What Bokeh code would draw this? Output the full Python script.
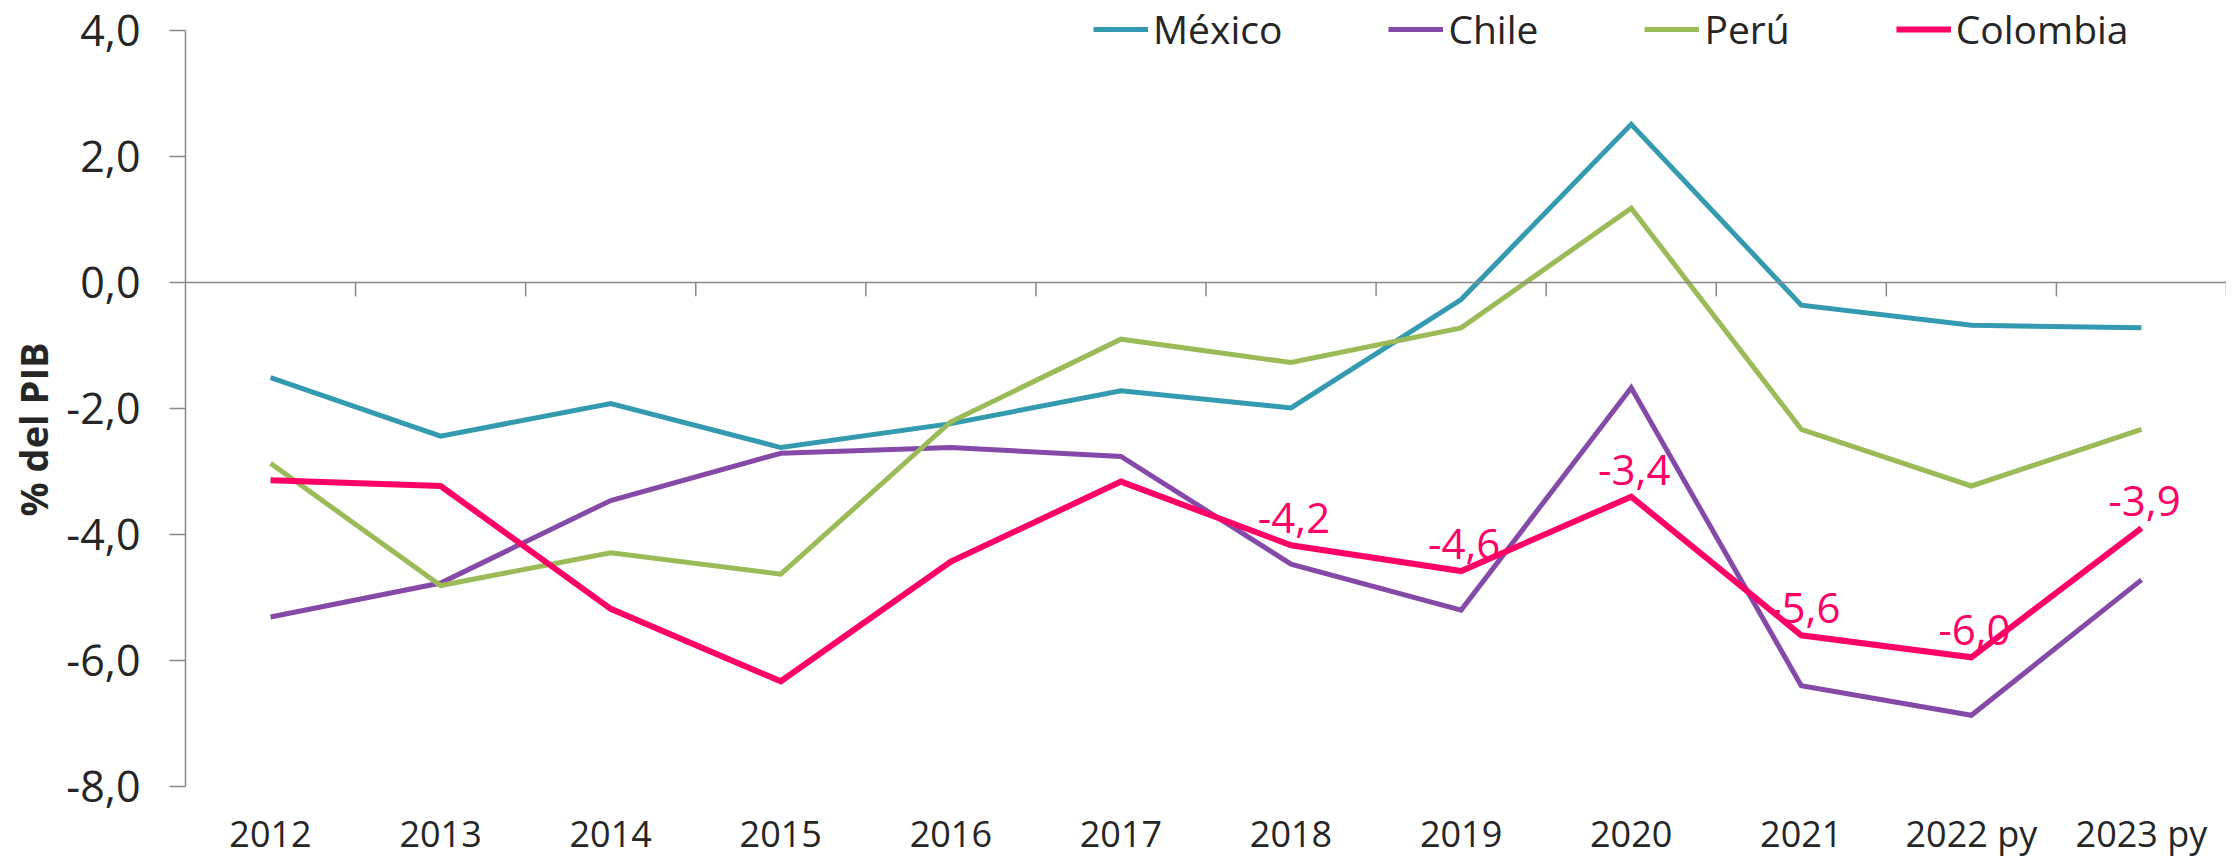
from bokeh.plotting import figure
from bokeh.models import (FactorRange, Range1d, Span, Legend, LegendItem, ColumnDataSource,
                          LabelSet, FixedTicker, CustomJSTickFormatter)
from bokeh.core.properties import value
from bokeh.embed import file_html
from bokeh.resources import INLINE

years = ["2012", "2013", "2014", "2015", "2016", "2017", "2018", "2019", "2020", "2021", "2022 py", "2023 py"]
mexico = [-1.51, -2.44, -1.92, -2.62, -2.24, -1.72, -1.99, -0.27, 2.51, -0.36, -0.68, -0.72]
chile = [-5.31, -4.77, -3.46, -2.71, -2.62, -2.76, -4.47, -5.20, -1.67, -6.40, -6.87, -4.72]
peru = [-2.87, -4.81, -4.29, -4.63, -2.21, -0.90, -1.27, -0.72, 1.18, -2.33, -3.23, -2.33]
colombia = [-3.14, -3.23, -5.18, -6.33, -4.43, -3.16, -4.17, -4.58, -3.40, -5.60, -5.95, -3.90]
labelled_years = ["2018", "2019", "2020", "2021", "2022 py", "2023 py"]
y_ticks = [-8, -6, -4, -2, 0, 2, 4]

series_names = ["México", "Chile", "Perú", "Colombia"]
colors = ["#339AAF", "#8549A7", "#9BBB59", "#FF0066"]
widths = [5, 5, 5, 6]

FONT = "Open Sans"
GRAY = "#898989"
TXT = "#262626"
Y_MIN, Y_MAX = -8, 4

# layout geometry (pixels): the frame fills the whole height so that the legend
# and the bottom category labels (drawn as annotations) are not clipped
H = 858
TOP_PAD, BOTTOM_PAD = 30, 72
px_per_unit = (H - TOP_PAD - BOTTOM_PAD) / (Y_MAX - Y_MIN)

p = figure(x_range=FactorRange(*years),
           y_range=Range1d(Y_MIN - BOTTOM_PAD / px_per_unit, Y_MAX + TOP_PAD / px_per_unit),
           width=2226, height=H, output_backend="svg", toolbar_location=None,
           min_border_left=185, min_border_right=0, min_border_top=0, min_border_bottom=0)
p.outline_line_color = None
p.grid.grid_line_color = None
p.background_fill_color = "white"

# y axis
p.yaxis.bounds = (Y_MIN, Y_MAX)
p.yaxis.ticker = FixedTicker(ticks=y_ticks)
p.yaxis.formatter = CustomJSTickFormatter(code="return tick.toFixed(1).replace('.', ',');")
p.yaxis.axis_line_color = GRAY
p.yaxis.axis_line_width = 1.5
p.yaxis.major_tick_line_color = GRAY
p.yaxis.major_tick_line_width = 1.5
p.yaxis.major_tick_out = 16
p.yaxis.major_tick_in = 0
p.yaxis.minor_tick_line_color = None
p.yaxis.major_label_standoff = 29
p.yaxis.major_label_text_font = FONT
p.yaxis.major_label_text_font_size = "43px"
p.yaxis.major_label_text_color = TXT
p.yaxis.axis_label = "% del PIB"
p.yaxis.axis_label_text_font = FONT
p.yaxis.axis_label_text_font_style = "bold"
p.yaxis.axis_label_text_font_size = "38px"
p.yaxis.axis_label_text_color = TXT
p.yaxis.axis_label_standoff = 4

# x axis drawn manually: labels at the bottom, zero line with category ticks
p.xaxis.visible = False
xl_src = ColumnDataSource(dict(x=years, y=[Y_MIN] * len(years), t=years))
p.add_layout(LabelSet(x="x", y="y", text="t", source=xl_src, text_align="center",
                      text_baseline="middle", y_offset=-47,
                      text_font=value(FONT), text_font_size="36px", text_color=TXT))

p.add_layout(Span(location=0, dimension="width", line_color=GRAY, line_width=1.5))
bounds = list(range(1, len(years) + 1))
p.segment(x0=bounds, y0=[0] * len(bounds), x1=bounds, y1=[-0.22] * len(bounds),
          line_color=GRAY, line_width=1.5)

renderers = []
for name, vals, c, w in zip(series_names, [mexico, chile, peru, colombia], colors, widths):
    src = ColumnDataSource(dict(x=years, y=vals))
    r = p.line("x", "y", source=src, line_color=c, line_width=w, line_join="miter")
    renderers.append(r)

# data labels for Colombia
lab_y = [colombia[years.index(yv)] for yv in labelled_years]
lab_t = [f"{v:.1f}".replace(".", ",") for v in lab_y]
lsrc = ColumnDataSource(dict(x=labelled_years, y=lab_y, t=lab_t))
p.add_layout(LabelSet(x="x", y="y", text="t", source=lsrc, text_align="center",
                      text_baseline="alphabetic", y_offset=12, x_offset=3,
                      text_font=value(FONT), text_font_size="42px", text_color="#FF0066"))

legend = Legend(items=[LegendItem(label=n, renderers=[r]) for n, r in zip(series_names, renderers)],
                orientation="horizontal", location=(908, H - 55),
                label_text_font=FONT, label_text_font_size="39px", label_text_color=TXT,
                glyph_width=55, glyph_height=30, label_height=30, label_standoff=5,
                spacing=106, padding=0, margin=0, border_line_color=None,
                background_fill_alpha=0)
p.add_layout(legend, "center")

open("out.html", "w").write(file_html(p, INLINE))
